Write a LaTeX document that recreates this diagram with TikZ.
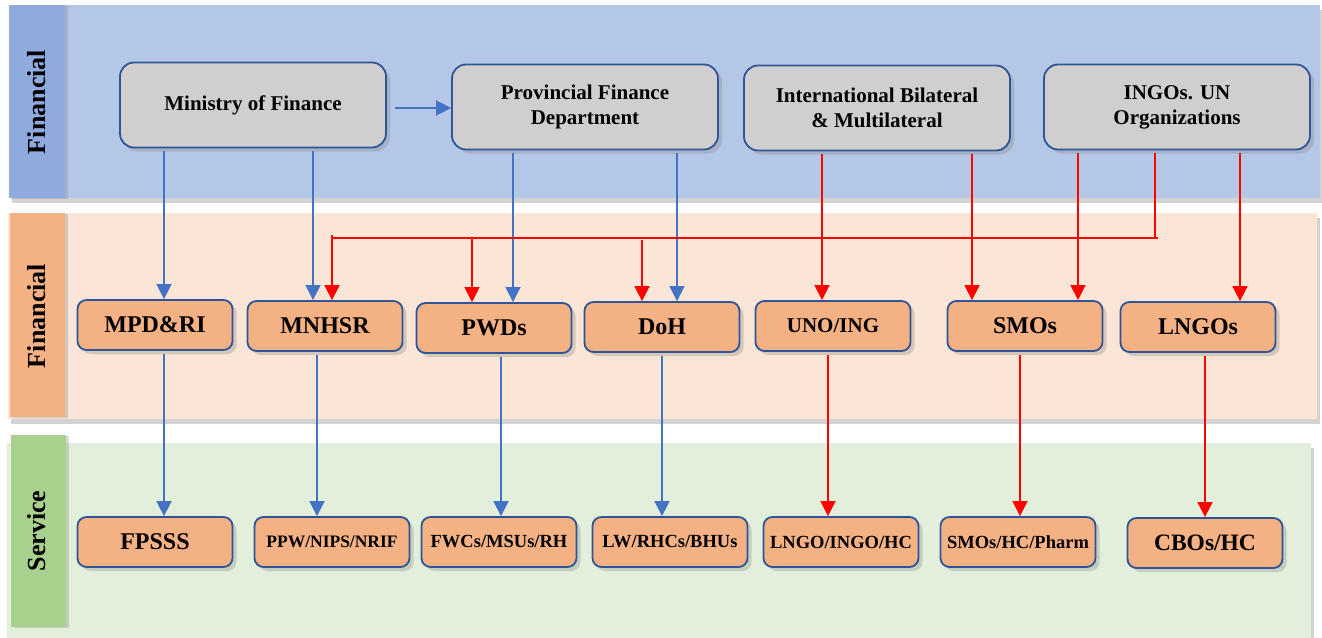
\documentclass[tikz,border=0pt]{standalone}
\usepackage{fontspec}
\setmainfont{Liberation Serif}
\usetikzlibrary{arrows.meta,shadows,positioning}
\definecolor{bandblue}{HTML}{B4C7E7}
\definecolor{stripblue}{HTML}{8FAADC}
\definecolor{bandpeach}{HTML}{FAE5D7}
\definecolor{strippeach}{HTML}{F4B183}
\definecolor{bandgreen}{HTML}{E2EFDA}
\definecolor{stripgreen}{HTML}{A9D18E}
\definecolor{boxgray}{HTML}{D0CECE}
\definecolor{boxpeach}{HTML}{F4B183}
\definecolor{boxborder}{HTML}{2F5597}
\definecolor{arrblue}{HTML}{4472C4}
\definecolor{arrred}{HTML}{FF0000}
\tikzset{
  x=1pt, y=-1pt,
  bandshadow/.style={drop shadow={opacity=0.35, shadow xshift=3pt, shadow yshift=-5pt}},
  boxshadow/.style={drop shadow={opacity=0.3, shadow xshift=4pt, shadow yshift=-4pt}},
  lanelabel/.style={rotate=90, font=\bfseries\fontsize{26}{30}\selectfont},
  topbox/.style={draw=boxborder, line width=1.8pt, fill=boxgray, rounded corners=14pt,
    minimum width=266pt, minimum height=85pt, align=center, inner sep=0pt,
    font=\bfseries\fontsize{21}{25}\selectfont, boxshadow},
  midbox/.style={draw=boxborder, line width=1.8pt, fill=boxpeach, rounded corners=9pt,
    minimum width=155pt, minimum height=50pt, align=center, inner sep=0pt,
    font=\bfseries\fontsize{24}{28}\selectfont, boxshadow},
  smalltext/.style={font=\bfseries\fontsize{18.5}{22}\selectfont},
  bluearr/.style={draw=arrblue, line width=1.6pt, -{Triangle[width=15pt,length=15pt]}, shorten <=3pt},
  redarr/.style={draw=arrred, line width=1.6pt, -{Triangle[width=15pt,length=15pt]}, shorten <=3pt},
}
\begin{document}
\begin{tikzpicture}
\useasboundingbox (0,0) rectangle (1322,637);
\fill[white] (0,0) rectangle (1322,637);
% bands
\fill[bandblue, bandshadow] (9,5) rectangle (1320,198);
\fill[stripblue, drop shadow={opacity=0.3, shadow xshift=3pt, shadow yshift=-1pt}] (9,5) rectangle (65,198);
\fill[bandpeach, bandshadow] (8,213) rectangle (1317,419);
\fill[strippeach, drop shadow={opacity=0.3, shadow xshift=3pt, shadow yshift=-1pt}] (10,213) rectangle (65,417);
\fill[bandgreen, bandshadow] (7,443) rectangle (1311,645);
\fill[stripgreen, drop shadow={opacity=0.3, shadow xshift=3pt, shadow yshift=-1pt}] (11,435) rectangle (66,627);
\node[lanelabel] (l1) at (37,102) {Financial};
\node[lanelabel] (l2) at (37,316) {Financial};
\node[lanelabel] (l3) at (37,531) {Service};
% top boxes
\node[topbox] (mof) at (253,105) {Ministry of Finance};
\node[topbox] (pfd) at (585,107) {Provincial Finance\\Department};
\node[topbox] (ibm) at (877,108) {International Bilateral\\\& Multilateral};
\node[topbox] (ingo) at (1177,107) {INGOs. UN\\Organizations};
% middle boxes
\node[midbox] (mpd) at (155,325) {MPD\&RI};
\node[midbox] (mnh) at (325,326) {MNHSR};
\node[midbox] (pwd) at (494,328) {PWDs};
\node[midbox] (doh) at (662,327) {DoH};
\node[midbox, font=\bfseries\fontsize{21}{25}\selectfont] (uno) at (833,326) {UNO/ING};
\node[midbox] (smo) at (1025,326) {SMOs};
\node[midbox] (lng) at (1198,327) {LNGOs};
% bottom boxes
\node[midbox] (fps) at (155,542) {FPSSS};
\node[midbox, font=\bfseries\fontsize{17.5}{21}\selectfont] (ppw) at (332,542) {PPW/NIPS/NRIF};
\node[midbox, smalltext] (fwc) at (499,542) {FWCs/MSUs/RH};
\node[midbox, smalltext] (lw) at (670,542) {LW/RHCs/BHUs};
\node[midbox, smalltext] (lngo) at (841,542) {LNGO/INGO/HC};
\node[midbox, smalltext] (smoh) at (1018,542) {SMOs/HC/Pharm};
\node[midbox, font=\bfseries\fontsize{23.5}{27}\selectfont] (cbo) at (1205,543) {CBOs/HC};
% blue connectors
\draw[bluearr, shorten <=8pt] (mof.east |- 0,108) -- (pfd.west |- 0,108);
\draw[bluearr] (164,0 |- mof.south) -- (164,0 |- mpd.north);
\draw[bluearr] (313,0 |- mof.south) -- (313,0 |- mnh.north);
\draw[bluearr] (513,0 |- pfd.south) -- (513,0 |- pwd.north);
\draw[bluearr] (677,0 |- pfd.south) -- (677,0 |- doh.north);
\draw[bluearr] (164,0 |- mpd.south) -- (164,0 |- fps.north);
\draw[bluearr] (317,0 |- mnh.south) -- (317,0 |- ppw.north);
\draw[bluearr] (501,0 |- pwd.south) -- (501,0 |- fwc.north);
\draw[bluearr] (662,0 |- doh.south) -- (662,0 |- lw.north);
% red connectors
\draw[redarr] (822,0 |- ibm.south) -- (822,0 |- uno.north);
\draw[redarr] (972,0 |- ibm.south) -- (972,0 |- smo.north);
\draw[redarr] (1078,0 |- ingo.south) -- (1078,0 |- smo.north);
\draw[redarr] (1240,0 |- ingo.south) -- (1240,0 |- lng.north);
\coordinate (busr) at (1155,238);
\coordinate (busl) at (332,238);
\draw[redarr] (1155,0 |- ingo.south) -- (busr) -- (busl) -- (332,0 |- mnh.north);
\draw[draw=arrred, line width=1.6pt] (busr) -- (1158,238);
\draw[draw=arrred, line width=1.6pt] (busl) -- (332,235);
\draw[redarr, shorten <=0pt] (472,238) -- (472,0 |- pwd.north);
\draw[redarr, shorten <=0pt] (642,240) -- (642,0 |- doh.north);
\draw[redarr] (828,0 |- uno.south) -- (828,0 |- lngo.north);
\draw[redarr] (1020,0 |- smo.south) -- (1020,0 |- smoh.north);
\draw[redarr] (1205,0 |- lng.south) -- (1205,0 |- cbo.north);
\end{tikzpicture}
\end{document}
